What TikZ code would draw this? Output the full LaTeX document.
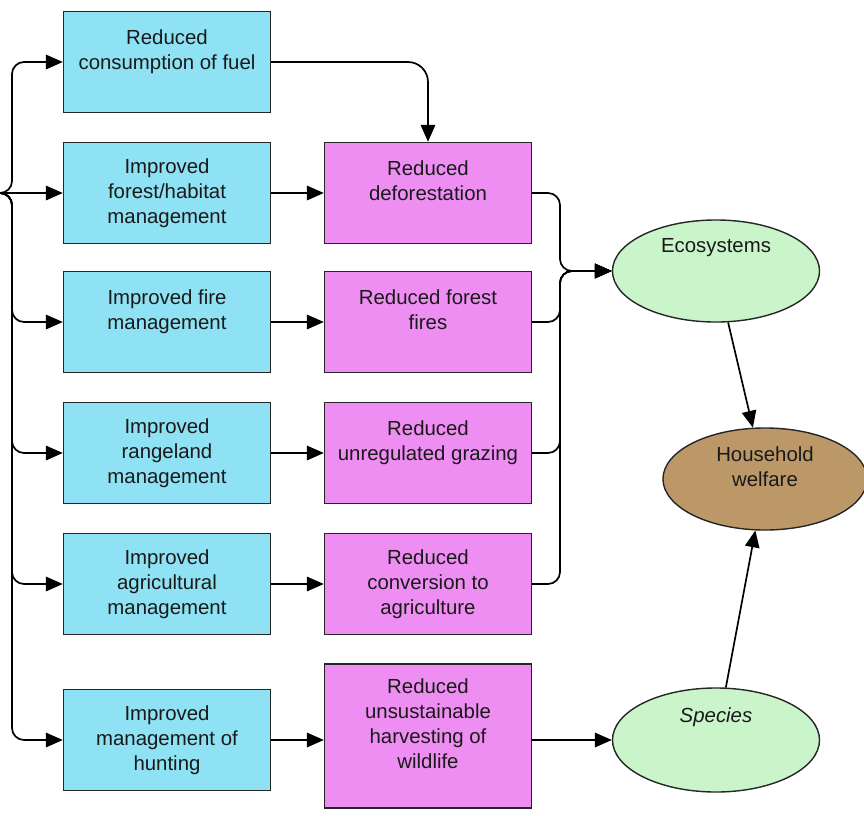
\documentclass[tikz,border=0pt]{standalone}
\usepackage{fontspec}
\setmainfont{Liberation Sans}
\usetikzlibrary{arrows.meta,shapes.geometric}
\definecolor{actcyan}{RGB}{142,226,244}
\definecolor{thrpink}{RGB}{238,142,242}
\definecolor{tgtgreen}{RGB}{202,245,202}
\definecolor{hhbrown}{RGB}{188,152,104}
\newcommand{\emptyline}{\\\mbox{}}
\begin{document}
\begin{tikzpicture}[x=0.025cm,y=-0.025cm,>={Triangle[length=0.42cm,width=0.36cm]},
  every node/.style={font=\fontsize{14.5}{17.8}\selectfont,align=center,text=black!90},
  act/.style={draw=black!85,line width=1pt,fill=actcyan,minimum width=5.175cm,minimum height=2.525cm,inner sep=0pt},
  thr/.style={act,fill=thrpink},
  tgt/.style={ellipse,draw=black!85,line width=1pt,fill=tgtgreen,minimum width=5.175cm,minimum height=2.55cm,inner sep=0pt},
  link/.style={line width=1.2pt,->,rounded corners=0.3cm}]
 \useasboundingbox (0,0) rectangle (864,816);
 % actions
 \node[act] (A1) at (167,62) {Reduced\\consumption of fuel\emptyline};
 \node[act] (A2) at (167,193) {Improved\\forest/habitat\\management};
 \node[act] (A3) at (167,322) {Improved fire\\management\emptyline};
 \node[act] (A4) at (167,453) {Improved\\rangeland\\management};
 \node[act] (A5) at (167,584) {Improved\\agricultural\\management};
 \node[act] (A6) at (167,740) {Improved\\management of\\hunting};
 % threats
 \node[thr] (B2) at (428,193) {Reduced\\deforestation\emptyline};
 \node[thr] (B3) at (428,322) {Reduced forest\\fires\emptyline};
 \node[thr] (B4) at (428,453) {Reduced\\unregulated grazing\emptyline};
 \node[thr] (B5) at (428,584) {Reduced\\conversion to\\agriculture};
 \node[thr,minimum height=3.6cm] (B6) at (428,736) {Reduced\\unsustainable\\harvesting of\\wildlife\emptyline};
 % targets
 \node[tgt] (E) at (716,271) {Ecosystems\emptyline\emptyline};
 \node[tgt,minimum height=2.6cm] (S) at (716,740) {\textit{Species}\emptyline\emptyline};
 \node[tgt,fill=hhbrown,minimum width=5.1cm] (H) at (765,479) {Household\\welfare\emptyline};
 \coordinate (L) at (0,193);
 \coordinate (Lx) at (12,193);
 \coordinate (R) at (560,271);
 % left bus
 \draw[link] (L) -- (A2.west);
 \foreach \a in {A1,A3,A4,A5}
  \draw[link] (L) -| (Lx |- \a.west) -- (\a.west);
 \draw[link] (L) -| (Lx |- A6.west) -- (A6.west);
 % actions to threats
 \draw[link,rounded corners=0.5cm] (A1.east) -| (B2.north);
 \foreach \i in {2,...,5}
  \draw[link] (A\i.east) -- (B\i.west);
 \draw[link] (A6.east) -- (A6.east -| B6.west);
 % threats to targets
 \foreach \b in {B2,B3,B4,B5}
  \draw[link] (\b.east) -| (R) -- (E.west);
 \draw[link] (S.west -| B6.east) -- (S.west);
 \draw[link] (E) -- (H);
 \draw[link] (S) -- (H);
\end{tikzpicture}
\end{document}
